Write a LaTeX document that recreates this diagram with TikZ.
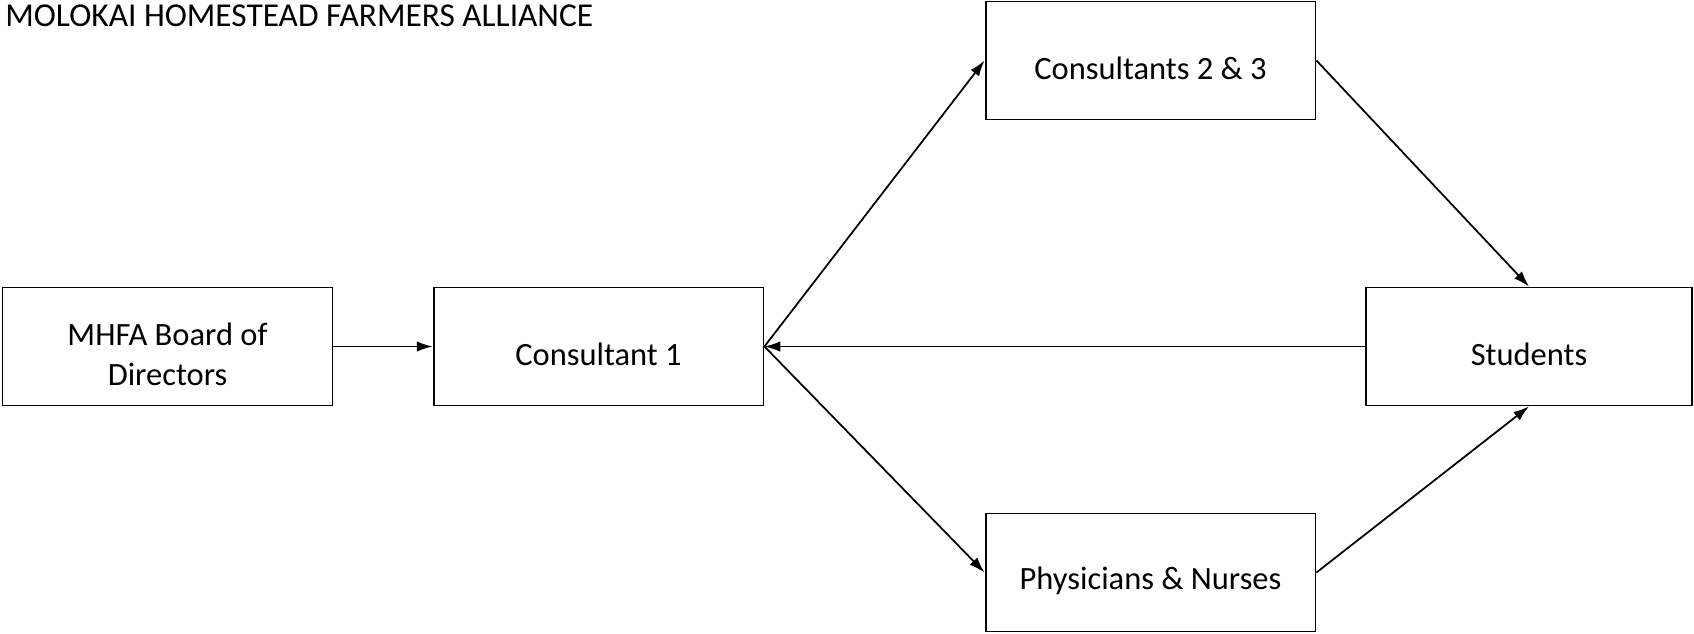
\documentclass[tikz,border=0pt]{standalone}
\usepackage{fontspec}
\setmainfont{Carlito}
\usetikzlibrary{arrows.meta}

\tikzset{
	boxtext/.style={align=center, yshift=-0.16cm, font=\fontsize{18.5}{22.5}\selectfont},
	unitbox/.style={draw, line width=1.1pt, minimum width=6.6cm, minimum height=2.36cm, label={[boxtext]center:#1}},
	flow/.style={line width=1pt, -{Latex[length=9pt, width=6pt]}}
}

\begin{document}
\begin{tikzpicture}[x=0.02cm, y=0.02cm]

	%page frame
	\useasboundingbox (0,0) rectangle (1694,633);

	%organisation title
	\node[anchor=west, font=\fontsize{19}{23}\selectfont, inner sep=0pt] (title) at (5,617) {MOLOKAI HOMESTEAD FARMERS ALLIANCE};

	%boxes
	\node[unitbox={MHFA Board of\\Directors}] (board) at (167.5,286.5) {};
	\node[unitbox={Consultant 1}] (cons1) at (598.5,286.5) {};
	\node[unitbox={Consultants 2 \& 3}] (cons23) at (1150.5,572.5) {};
	\node[unitbox={Physicians \& Nurses}] (phys) at (1150.5,60.5) {};
	\node[unitbox={Students}, minimum width=6.52cm] (stud) at (1529,286.5) {};

	%links between boxes
	\draw[flow] (board) -- (cons1);
	\draw[flow] (cons1.east) -- (cons23.west);
	\draw[flow] (cons1.east) -- (phys.west);
	\draw[flow] (cons23.east) -- (stud.north);
	\draw[flow] (phys.east) -- (stud.south);
	\draw[flow] (stud.west) -- (cons1.east);

\end{tikzpicture}
\end{document}
